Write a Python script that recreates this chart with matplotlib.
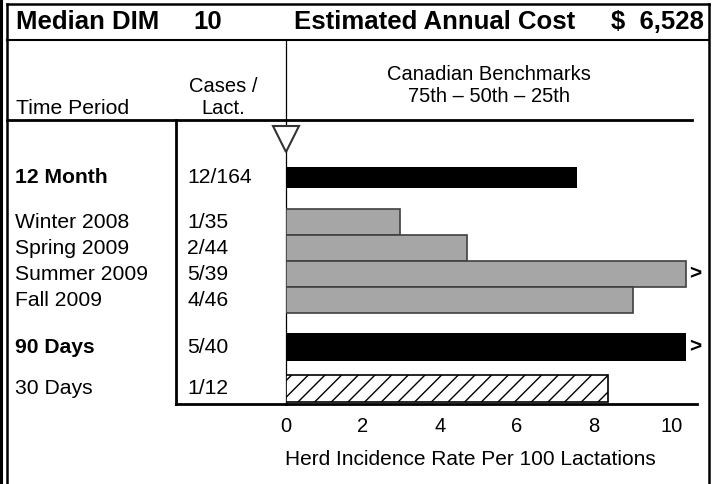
import numpy as np
import matplotlib
matplotlib.use("Agg")
import matplotlib.pyplot as plt

plt.rcParams['font.family'] = ['Liberation Sans', 'DejaVu Sans']
plt.rcParams['hatch.linewidth'] = 1.0
plt.rcParams['hatch.color'] = '#333333'

# chart data
periods = ['12 Month', 'Winter 2008', 'Spring 2009', 'Summer 2009',
           'Fall 2009', '90 Days', '30 Days']
cases = ['12/164', '1/35', '2/44', '5/39', '4/46', '5/40', '1/12']
rates = [7.55, 2.95, 4.7, 12.8, 9.0, 12.5, 8.35]
bold_rows = ['12 Month', '90 Days']
ticks = [0, 2, 4, 6, 8, 10]
median_dim = '10'
annual_cost = '$  6,528'

# layout (row slots, heights, styles)
ypos = [0, 1.72, 2.72, 3.72, 4.72, 6.52, 8.12]
heights = [0.82, 1.0, 1.0, 1.0, 1.0, 1.07, 1.03]
styles = ['black', 'gray', 'gray', 'gray', 'gray', 'black', 'hatch']
cap = 10.38
fs = 14.5
rfs = 15.2

W, H = 716, 484
fig = plt.figure(figsize=(W / 100, H / 100), dpi=100)

def fx(px):
    return px / W

def fy(py):
    return 1 - py / H

# bar panel
ax = fig.add_axes([fx(286), fy(404), fx(697) - fx(286), (404 - 120) / H])
ax.set_facecolor('none')
for y, h, v, s in zip(ypos, heights, rates, styles):
    w = min(v, cap)
    if s == 'black':
        ax.barh(y, w, height=h, color='black', edgecolor='black', lw=0)
    elif s == 'gray':
        ax.barh(y, w, height=h, color='#a6a6a6', edgecolor='#404040', lw=1.2)
    else:
        ax.barh(y, w, height=h, color='white', edgecolor='black', lw=1.2, hatch='//')
    if v > cap:
        ax.text(cap + 0.08, y, '>', fontsize=15, fontweight='bold', va='center', ha='left')

# benchmark marker
ax.plot([0], [-1.48], marker='v', markersize=19, markerfacecolor='white',
        markeredgecolor='#333333', markeredgewidth=1.5, clip_on=False, zorder=5)

ax.set_xlim(0, 10.67)
ax.set_ylim(8.71, -2.21)
ax.set_xticks(ticks)
ax.set_xticklabels([str(t) for t in ticks], fontsize=fs)
ax.tick_params(axis='x', length=0, pad=9)
ax.set_yticks([])
for sp in ['top', 'right', 'left']:
    ax.spines[sp].set_visible(False)
ax.spines['bottom'].set_linewidth(2)
ax.set_xlabel('Herd Incidence Rate Per 100 Lactations', fontsize=15)
ax.xaxis.set_label_coords((470 - 286) / (697 - 286), -(450 - 404) / (404 - 120))

# frame and text overlay in pixel coords
ov = fig.add_axes([0, 0, 1, 1], zorder=-1)
ov.set_xlim(0, W)
ov.set_ylim(H, 0)
ov.axis('off')

ov.plot([1, 1], [0, H], color='black', lw=2.2)
ov.plot([7, 7], [4, H], color='black', lw=1.8)
ov.plot([7, 709], [4, 4], color='black', lw=1.8)
ov.plot([7, 709], [40, 40], color='black', lw=1.5)
ov.plot([709, 709], [4, H], color='black', lw=1.8)
ov.plot([7, 692], [120, 120], color='black', lw=2)
ov.plot([176, 176], [120, 404], color='black', lw=2)
ov.plot([176, 286], [404, 404], color='black', lw=2)
ov.plot([286, 286], [40, 404], color='black', lw=0.9)

tfs = 18.5
ov.text(16, 22, 'Median DIM', fontsize=tfs, fontweight='bold', va='center')
ov.text(193, 22, median_dim, fontsize=tfs, fontweight='bold', va='center')
ov.text(294, 22, 'Estimated Annual Cost', fontsize=tfs, fontweight='bold', va='center')
ov.text(704, 22, annual_cost, fontsize=tfs, fontweight='bold', va='center', ha='right')

ov.text(16, 108, 'Time Period', fontsize=rfs, va='center')
ov.text(223, 86, 'Cases /', fontsize=fs, va='center', ha='center')
ov.text(223, 108, 'Lact.', fontsize=fs, va='center', ha='center')
ov.text(489, 75, 'Canadian Benchmarks', fontsize=fs, va='center', ha='center')
ov.text(489, 97, '75th \u2013 50th \u2013 25th', fontsize=fs, va='center', ha='center')

# row labels follow the bar rows
for p, c, y in zip(periods, cases, ypos):
    ypx = 177.5 + y * 26
    ov.text(15, ypx, p, fontsize=rfs, va='center',
            fontweight='bold' if p in bold_rows else 'normal')
    ov.text(187, ypx, c, fontsize=rfs, va='center')

fig.savefig('out.png', dpi=100)
